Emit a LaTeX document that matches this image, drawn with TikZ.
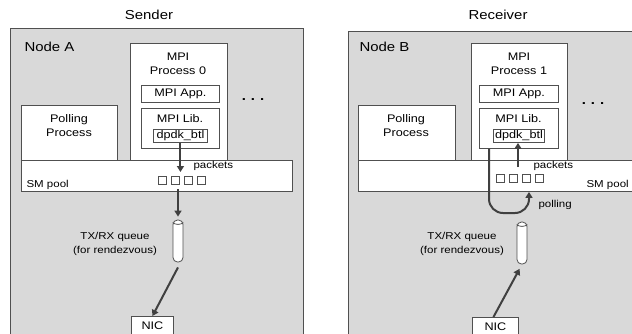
\documentclass[tikz,border=0pt]{standalone}
\usepackage{fontspec}
\setmainfont{Liberation Sans}[FakeStretch=1.15]
\usetikzlibrary{arrows.meta}
\definecolor{hostgray}{HTML}{D9D9D9}
\definecolor{linegray}{HTML}{505050}
\definecolor{arrowgray}{HTML}{404040}
\tikzset{
	host/.style={draw=linegray, fill=hostgray, line width=1.2pt, anchor=north west},
	box/.style={draw=linegray, fill=white, line width=0.9pt, anchor=north west, inner sep=0pt, font=\fontsize{11}{13}\selectfont},
	lbl/.style={font=\fontsize{11}{14}\selectfont, align=center},
	title/.style={font=\fontsize{13}{15}\selectfont},
	small/.style={font=\fontsize{10}{13.5}\selectfont, align=center},
	pkt/.style={draw=linegray, fill=white, line width=0.7pt, minimum width=8, minimum height=8, inner sep=0pt},
	queue/.style={draw=linegray, fill=white, line width=0.8pt, minimum width=10, minimum height=42, rounded corners=4.5pt, inner sep=0pt},
	flow/.style={-{Triangle[length=6pt,width=7pt]}, line width=2pt, draw=arrowgray}
}
\begin{document}
\begin{tikzpicture}[x=1pt,y=-1pt]
	\clip (0,0) rectangle (632,333);
	% sender side
	\node[title] (sendT) at (149,15) {Sender};
	\node[host, minimum width=293, minimum height=320] (hostA) at (10,28) {};
	\node[title, anchor=base west] (nameA) at (21,51) {Node A};
	\node[box, minimum width=97, minimum height=130] (procA) at (130,43) {};
	\node[lbl, anchor=north] (procAT) at (178,49) {MPI\\Process 0};
	\node[box, minimum width=78, minimum height=17] (appA) at (141,85) {MPI App.};
	\node[box, minimum width=78, minimum height=40] (libA) at (141,108) {};
	\node[lbl, anchor=base] (libAT) at (180,122) {MPI Lib.};
	\node[box, minimum width=54, minimum height=13] (btlA) at (153,129) {dpdk\_btl};
	\node[title] (dotsA) at (253,100) {\textbf{.\hspace{5pt}.\hspace{5pt}.}};
	\node[box, minimum width=96, minimum height=60] (pollA) at (21,105) {};
	\node[lbl, anchor=north] (pollAT) at (69,111) {Polling\\Process};
	\node[box, minimum width=271, minimum height=31] (poolA) at (21,160) {};
	\node[small, anchor=base west] (poolAT) at (23,187) {SM pool};
	\foreach \i in {0,...,3}
	\node[pkt] (pA\i) at (162+13*\i,180) {};
	\node[small, anchor=base west] (pktAT) at (190,168) {packets};
	\node[queue] (qA) at (178,241) {};
	\draw[linegray, line width=0.8pt] ([yshift=-3pt]qA.north west) to[bend right=35] ([yshift=-3pt]qA.north east);
	\node[small] (qAT) at (115,244) {TX/RX queue\\(for rendezvous)};
	\node[box, minimum width=42, minimum height=19] (nicA) at (131,316) {NIC};
	\coordinate (inA) at (btlA.south |- 0,172);
	\draw[flow] (btlA.south) -- (inA);
	\draw[flow, shorten >=3pt] ([yshift=3pt]poolA.south -| qA) -- (qA.north);
	\draw[flow] ([yshift=-5pt]qA.south) -- (nicA.north);
	% receiver side
	\node[title] (recvT) at (498,15) {Receiver};
	\node[host, minimum width=300, minimum height=320] (hostB) at (348,31) {};
	\node[title, anchor=base west] (nameB) at (356,51) {Node B};
	\node[box, minimum width=96, minimum height=130] (procB) at (471,43) {};
	\node[lbl, anchor=north] (procBT) at (519,49) {MPI\\Process 1};
	\node[box, minimum width=79, minimum height=17] (appB) at (479,85) {MPI App.};
	\node[box, minimum width=79, minimum height=40] (libB) at (479,108) {};
	\node[lbl, anchor=base] (libBT) at (518.5,122) {MPI Lib.};
	\node[box, minimum width=51, minimum height=13] (btlB) at (493,129) {dpdk\_btl};
	\node[title] (dotsB) at (593,104) {\textbf{.\hspace{5pt}.\hspace{5pt}.}};
	\node[box, minimum width=97, minimum height=60] (pollB) at (358,105) {};
	\node[lbl, anchor=north] (pollBT) at (406,111) {Polling\\Process};
	\node[box, minimum width=290, minimum height=31] (poolB) at (358,160) {};
	\node[small, anchor=base west] (poolBT) at (583,187) {SM pool};
	\foreach \i in {0,...,3}
	\node[pkt] (pB\i) at (500+13*\i,178) {};
	\node[small, anchor=base west] (pktBT) at (530,168) {packets};
	\node[queue] (qB) at (522,243) {};
	\draw[linegray, line width=0.8pt] ([yshift=-3pt]qB.north west) to[bend right=35] ([yshift=-3pt]qB.north east);
	\node[small] (qBT) at (462,244) {TX/RX queue\\(for rendezvous)};
	\node[box, minimum width=46, minimum height=19] (nicB) at (472,317) {NIC};
	\coordinate (outB) at (518,167);
	\draw[flow] (outB) -- (outB |- btlB.south);
	\coordinate (pollB1) at (489,213);
	\coordinate (pollB2) at (529,213);
	\draw[flow, rounded corners=14pt] (libB.south -| pollB1) -- (pollB1) -- (pollB2) -- (pollB2 |- poolB.south);
	\node[small, anchor=base west] (pollingT) at (535,207) {polling};
	\draw[flow, shorten >=5pt] ([xshift=-2pt]nicB.north) -- (qB.south);
\end{tikzpicture}
\end{document}
